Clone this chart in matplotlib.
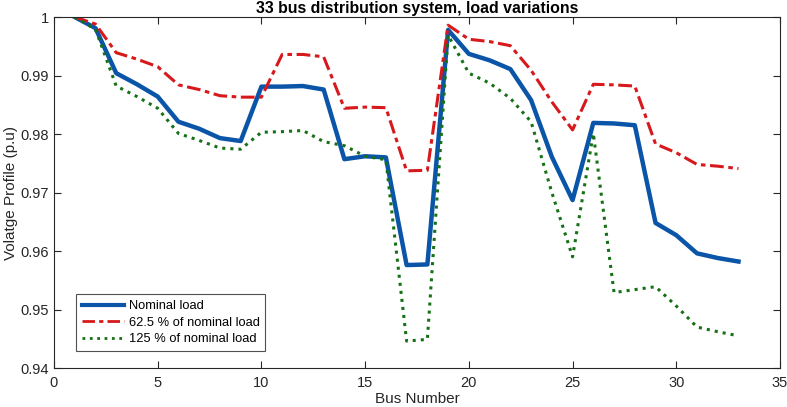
import matplotlib
matplotlib.use("Agg")
import matplotlib.pyplot as plt

plt.rcParams['font.family'] = ['Liberation Sans', 'DejaVu Sans']

buses = list(range(1, 34))
nominal = [1.0, 0.9981, 0.9904, 0.9885, 0.9864, 0.9821, 0.9809, 0.9793, 0.9788, 0.9881,
           0.9881, 0.9882, 0.9876, 0.9757, 0.9762, 0.9760, 0.9576, 0.9577, 0.9978, 0.9937,
           0.9926, 0.9911, 0.9858, 0.9761, 0.9687, 0.9819, 0.9818, 0.9815, 0.9648, 0.9627,
           0.9596, 0.9588, 0.9582]
load_625 = [1.0, 0.9988, 0.9939, 0.9928, 0.9915, 0.9884, 0.9876, 0.98655, 0.9863, 0.9863,
            0.9936, 0.9936, 0.9932, 0.9844, 0.9846, 0.9845, 0.9737, 0.9738, 0.9986, 0.9962,
            0.9958, 0.9951, 0.9909, 0.9855, 0.9807, 0.9885, 0.9884, 0.9882, 0.9783, 0.9768,
            0.9748, 0.9745, 0.9741]
load_125 = [1.0, 0.9979, 0.9882, 0.9864, 0.9844, 0.9801, 0.9789, 0.9776, 0.9774, 0.9803,
            0.9804, 0.9806, 0.9787, 0.9780, 0.9762, 0.9756, 0.9446, 0.9449, 0.9969, 0.9904,
            0.9887, 0.9861, 0.9821, 0.9700, 0.9590, 0.9801, 0.9529, 0.9534, 0.9539, 0.9506,
            0.9470, 0.9462, 0.9455]
labels = ['Nominal load', '62.5 % of nominal load', '125 % of nominal load']
xticks = [0, 5, 10, 15, 20, 25, 30, 35]
yticks = [0.94, 0.95, 0.96, 0.97, 0.98, 0.99, 1.0]
ytick_labels = ['0.94', '0.95', '0.96', '0.97', '0.98', '0.99', '1']

fig = plt.figure(figsize=(7.87, 4.07), dpi=100)
ax = fig.add_axes([0.0686, 0.0958, 0.9225, 0.8624])

ax.plot(buses, nominal, color='#0b55a8', lw=3.2, ls='-', label=labels[0])
ax.plot(buses, load_625, color='#d7191c', lw=2.2, ls=(0, (4.5, 1.5, 1.5, 1.5)), label=labels[1])
ax.plot(buses, load_125, color='#167016', lw=2.2, ls=':', label=labels[2])

ax.set_xlim(0, 35)
ax.set_ylim(0.94, 1.0)
ax.set_xticks(xticks)
ax.set_yticks(yticks)
ax.set_yticklabels(ytick_labels)
ax.tick_params(direction='in', top=True, right=True, labelsize=10.5, length=5,
               width=0.8, colors='#262626', labelcolor='#262626')
ax.tick_params(axis='x', pad=6)
for s in ax.spines.values():
    s.set_color('#262626')
    s.set_linewidth(0.8)

ax.set_xlabel('Bus Number', fontsize=11, color='#262626', labelpad=1.5)
ax.set_ylabel('Volatge Profile (p.u)', fontsize=11, color='#262626', labelpad=2)
ax.set_title('33 bus distribution system, load variations', fontsize=11.4,
             fontweight='bold', pad=3)

leg = ax.legend(loc='lower left', bbox_to_anchor=(0.022, 0.03), fontsize=9.3,
                frameon=True, fancybox=False, edgecolor='#262626', handlelength=3.2,
                borderpad=0.45, labelspacing=0.35, handletextpad=0.4)
leg.get_frame().set_linewidth(0.8)
for ln, w in zip(leg.get_lines(), [3.0, 2.0, 2.0]):
    ln.set_linewidth(w)

fig.savefig('out.png', dpi=100)
